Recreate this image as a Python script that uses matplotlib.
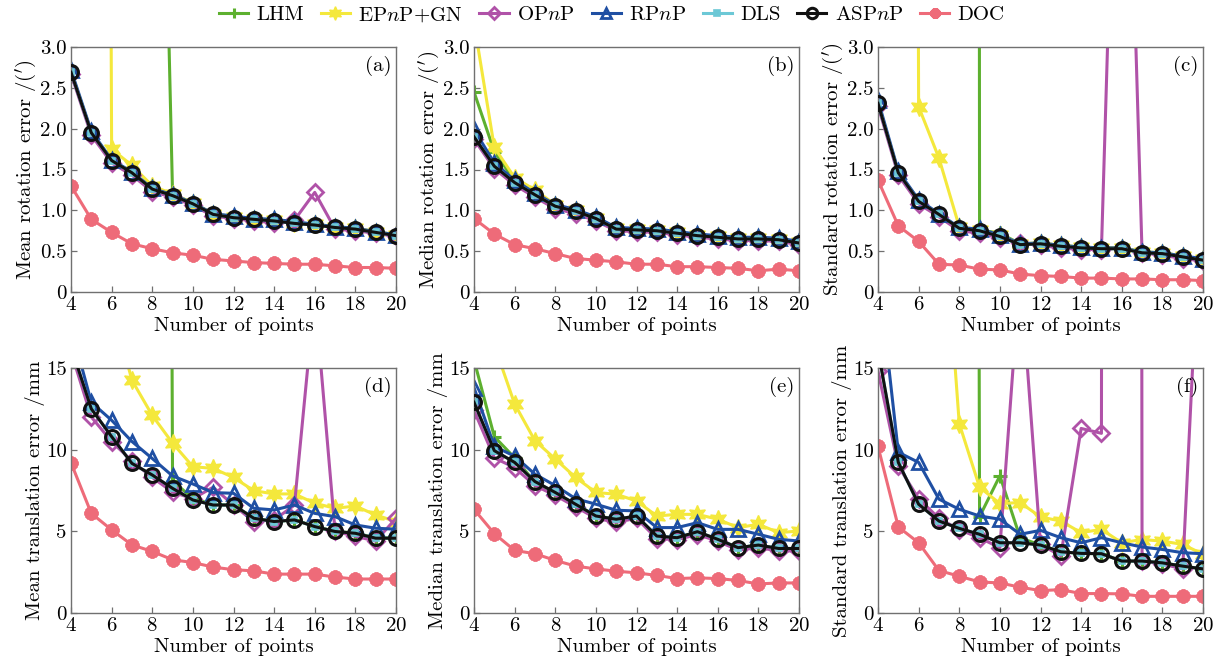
import matplotlib
matplotlib.use("Agg")
import matplotlib.pyplot as plt
from matplotlib.ticker import FuncFormatter, MultipleLocator

plt.rcParams['font.family'] = ['cmr10', 'DejaVu Serif']
plt.rcParams['mathtext.fontset'] = 'cm'
plt.rcParams['axes.formatter.use_mathtext'] = True

x = list(range(4, 21))

methods = ['LHM', r'EP$n$P+GN', r'OP$n$P', r'RP$n$P', 'DLS', r'ASP$n$P', 'DOC']

# (a) mean rotation error
a_LHM = [40, 30, 20, 15, 11.7, 1.20, 1.09, 0.95, 0.92, 0.89, 0.88, 0.85, 0.82, 0.79, 0.77, 0.73, 0.69]
a_EPNP = [80, 60, 1.75, 1.55, 1.30, 1.20, 1.09, 0.96, 0.92, 0.90, 0.88, 0.85, 0.83, 0.80, 0.78, 0.74, 0.70]
a_OPNP = [2.67, 1.92, 1.58, 1.43, 1.23, 1.16, 1.06, 0.93, 0.90, 0.87, 0.85, 0.88, 1.22, 0.77, 0.75, 0.72, 0.68]
a_RPNP = [2.72, 1.97, 1.62, 1.47, 1.27, 1.19, 1.09, 0.96, 0.93, 0.90, 0.89, 0.86, 0.83, 0.80, 0.78, 0.74, 0.70]
a_DLS = [2.69, 1.95, 1.61, 1.46, 1.26, 1.18, 1.08, 0.95, 0.91, 0.89, 0.87, 0.84, 0.82, 0.79, 0.77, 0.73, 0.69]
a_ASPNP = [2.69, 1.95, 1.61, 1.46, 1.26, 1.18, 1.08, 0.95, 0.91, 0.89, 0.87, 0.84, 0.82, 0.79, 0.77, 0.73, 0.69]
a_DOC = [1.30, 0.89, 0.73, 0.59, 0.53, 0.48, 0.45, 0.40, 0.38, 0.36, 0.35, 0.34, 0.34, 0.32, 0.30, 0.30, 0.29]

# (b) median rotation error
b_LHM = [2.45, 1.72, 1.36, 1.20, 1.06, 1.00, 0.91, 0.78, 0.77, 0.76, 0.73, 0.70, 0.68, 0.66, 0.66, 0.65, 0.61]
b_EPNP = [3.30, 1.77, 1.40, 1.25, 1.07, 1.00, 0.91, 0.78, 0.77, 0.76, 0.73, 0.70, 0.68, 0.66, 0.66, 0.65, 0.61]
b_OPNP = [1.87, 1.51, 1.31, 1.16, 1.02, 0.96, 0.87, 0.75, 0.74, 0.73, 0.70, 0.67, 0.65, 0.63, 0.63, 0.62, 0.58]
b_RPNP = [1.99, 1.58, 1.37, 1.21, 1.07, 1.01, 0.92, 0.79, 0.78, 0.77, 0.74, 0.71, 0.69, 0.67, 0.67, 0.66, 0.62]
b_DLS = [1.90, 1.54, 1.34, 1.19, 1.05, 0.99, 0.90, 0.77, 0.76, 0.75, 0.72, 0.69, 0.67, 0.65, 0.65, 0.64, 0.60]
b_ASPNP = [1.90, 1.54, 1.34, 1.19, 1.05, 0.99, 0.90, 0.77, 0.76, 0.75, 0.72, 0.69, 0.67, 0.65, 0.65, 0.64, 0.60]
b_DOC = [0.90, 0.71, 0.58, 0.53, 0.47, 0.41, 0.39, 0.37, 0.34, 0.34, 0.31, 0.31, 0.30, 0.29, 0.26, 0.28, 0.26]

# (c) standard rotation error
c_LHM = [300, 300, 300, 300, 300, 0.76, 0.72, 0.59, 0.60, 0.57, 0.55, 0.54, 0.54, 0.49, 0.48, 0.44, 0.40]
c_EPNP = [100, 80, 2.27, 1.64, 0.80, 0.76, 0.70, 0.59, 0.60, 0.57, 0.55, 0.54, 0.54, 0.49, 0.48, 0.44, 0.40]
c_OPNP = [2.28, 1.43, 1.08, 0.92, 0.75, 0.72, 0.66, 0.60, 0.57, 0.54, 0.52, 0.52, 8.8, 0.48, 0.45, 0.41, 0.38]
c_RPNP = [2.35, 1.48, 1.13, 0.96, 0.79, 0.77, 0.70, 0.59, 0.60, 0.57, 0.55, 0.54, 0.54, 0.49, 0.48, 0.44, 0.41]
c_DLS = [2.31, 1.46, 1.11, 0.95, 0.78, 0.75, 0.68, 0.58, 0.59, 0.56, 0.54, 0.53, 0.53, 0.48, 0.47, 0.43, 0.39]
c_ASPNP = [2.31, 1.46, 1.11, 0.95, 0.78, 0.75, 0.68, 0.58, 0.59, 0.56, 0.54, 0.53, 0.53, 0.48, 0.47, 0.43, 0.39]
c_DOC = [1.37, 0.81, 0.62, 0.34, 0.33, 0.28, 0.27, 0.22, 0.20, 0.19, 0.17, 0.17, 0.16, 0.16, 0.15, 0.15, 0.14]

# (d) mean translation error
d_LHM = [300, 300, 300, 300, 300, 8.1, 7.0, 6.65, 6.6, 5.8, 5.6, 5.7, 5.3, 5.0, 4.9, 4.6, 4.6]
d_EPNP = [60, 30, 18.9, 14.25, 12.1, 10.4, 8.96, 8.85, 8.3, 7.49, 7.29, 7.29, 6.72, 6.41, 6.55, 6.0, 5.6]
d_OPNP = [16.0, 12.0, 10.5, 9.3, 8.3, 7.4, 7.0, 7.7, 6.6, 5.6, 5.7, 6.6, 19.5, 5.0, 4.7, 4.4, 5.8]
d_RPNP = [17.5, 12.9, 11.8, 10.5, 9.46, 8.39, 7.90, 7.37, 7.33, 6.41, 6.31, 6.61, 6.10, 5.90, 5.39, 5.19, 5.13]
d_DLS = [16.3, 12.5, 10.8, 9.16, 8.45, 7.63, 6.92, 6.61, 6.61, 5.80, 5.60, 5.70, 5.29, 4.99, 4.88, 4.58, 4.58]
d_ASPNP = [16.3, 12.5, 10.8, 9.16, 8.45, 7.63, 6.92, 6.61, 6.61, 5.80, 5.60, 5.70, 5.29, 4.99, 4.88, 4.58, 4.58]
d_DOC = [9.2, 6.1, 5.09, 4.17, 3.77, 3.26, 3.09, 2.81, 2.65, 2.58, 2.38, 2.38, 2.38, 2.20, 2.08, 2.08, 2.08]

# (e) median translation error
e_LHM = [15.5, 10.8, 9.5, 8.0, 7.35, 6.65, 5.95, 5.75, 5.9, 4.7, 4.6, 4.95, 4.5, 4.0, 4.15, 3.95, 3.95]
e_EPNP = [30, 16.4, 12.8, 10.55, 9.43, 8.3, 7.38, 7.27, 6.86, 5.94, 6.04, 6.04, 5.74, 5.23, 5.43, 4.92, 5.02]
e_OPNP = [12.4, 9.5, 8.9, 7.8, 7.2, 6.5, 5.8, 5.55, 5.8, 4.55, 4.5, 4.8, 4.4, 3.85, 4.0, 3.8, 3.8]
e_RPNP = [13.8, 10.2, 9.6, 8.5, 7.8, 7.0, 6.66, 6.29, 6.25, 5.23, 5.23, 5.53, 5.12, 5.12, 4.82, 4.51, 4.41]
e_DLS = [12.9, 9.94, 9.22, 8.05, 7.38, 6.66, 5.94, 5.74, 5.94, 4.71, 4.61, 4.98, 4.51, 4.00, 4.16, 3.95, 3.95]
e_ASPNP = [12.9, 9.94, 9.22, 8.05, 7.38, 6.66, 5.94, 5.74, 5.94, 4.71, 4.61, 4.98, 4.51, 4.00, 4.16, 3.95, 3.95]
e_DOC = [6.35, 4.86, 3.83, 3.63, 3.22, 2.87, 2.70, 2.56, 2.46, 2.30, 2.11, 2.15, 2.11, 1.99, 1.78, 1.84, 1.84]

# (f) standard translation error
f_LHM = [500, 500, 500, 500, 500, 5.9, 8.4, 4.6, 4.16, 3.75, 3.65, 3.63, 3.18, 3.18, 3.07, 2.87, 2.70]
f_EPNP = [80, 60, 40, 28.6, 11.6, 7.7, 6.7, 6.76, 5.88, 5.63, 4.92, 5.12, 4.3, 4.5, 4.4, 4.2, 3.6]
f_OPNP = [14.8, 9.0, 7.0, 5.8, 5.1, 4.6, 4.0, 21.0, 4.2, 3.5, 11.3, 11.0, 1000, 3.2, 3.0, 2.7, 28.0]
f_RPNP = [21.0, 9.84, 9.22, 6.97, 6.35, 5.94, 5.74, 4.82, 5.06, 4.61, 4.30, 4.61, 4.30, 4.04, 3.89, 3.69, 3.63]
f_DLS = [16.1, 9.22, 6.66, 5.63, 5.18, 4.82, 4.30, 4.30, 4.16, 3.75, 3.65, 3.63, 3.18, 3.18, 3.07, 2.87, 2.70]
f_ASPNP = [16.1, 9.22, 6.66, 5.63, 5.18, 4.82, 4.30, 4.30, 4.16, 3.75, 3.65, 3.63, 3.18, 3.18, 3.07, 2.87, 2.70]
f_DOC = [10.2, 5.27, 4.3, 2.6, 2.25, 1.9, 1.84, 1.58, 1.37, 1.43, 1.19, 1.19, 1.17, 1.02, 1.02, 1.02, 1.02]

panel_data = [
    [a_LHM, a_EPNP, a_OPNP, a_RPNP, a_DLS, a_ASPNP, a_DOC],
    [b_LHM, b_EPNP, b_OPNP, b_RPNP, b_DLS, b_ASPNP, b_DOC],
    [c_LHM, c_EPNP, c_OPNP, c_RPNP, c_DLS, c_ASPNP, c_DOC],
    [d_LHM, d_EPNP, d_OPNP, d_RPNP, d_DLS, d_ASPNP, d_DOC],
    [e_LHM, e_EPNP, e_OPNP, e_RPNP, e_DLS, e_ASPNP, e_DOC],
    [f_LHM, f_EPNP, f_OPNP, f_RPNP, f_DLS, f_ASPNP, f_DOC],
]
ylabels = [r"Mean rotation error /($'$)", r"Median rotation error /($'$)", r"Standard rotation error /($'$)",
           "Mean translation error /mm", "Median translation error /mm", "Standard translation error /mm"]
panel_tags = ['(a)', '(b)', '(c)', '(d)', '(e)', '(f)']

colors = ['#5DB02F', '#F4E83C', '#B052A8', '#1F4FA3', '#6CC8D6', '#111111', '#EE6B79']
hexagram = (6, 1, 0)
asterisk = (8, 2, 0)
styles = [
    dict(marker='+', ms=10, mew=2.2, mfc=colors[0]),
    dict(marker=hexagram, ms=13, mew=1.0, mfc=colors[1]),
    dict(marker='D', ms=8, mew=2.0, mfc='none'),
    dict(marker='^', ms=9.5, mew=2.0, mfc='none'),
    dict(marker='s', ms=5, mew=1.2, mfc=colors[4]),
    dict(marker='o', ms=10, mew=2.2, mfc='none'),
    dict(marker=asterisk, ms=10, mew=3.0, mfc=colors[6]),
]
zorders = [2.0, 2.1, 2.2, 2.3, 2.4, 2.6, 2.5]

fig = plt.figure(figsize=(12.2, 6.65), dpi=100)

lefts = [71, 474, 878]
tops = [47, 368]
W, H = 325, 245
spine_col = '#707070'
FS = 15

handles = None
for i in range(6):
    r, c = divmod(i, 3)
    ax = fig.add_axes([lefts[c] / 1220, 1 - (tops[r] + H) / 665, W / 1220, H / 665])
    hs = []
    for k in range(7):
        h, = ax.plot(x, panel_data[i][k], color=colors[k], lw=2.2, mec=colors[k],
                     zorder=zorders[k], label=methods[k], **styles[k])
        hs.append(h)
    if handles is None:
        handles = hs
    ax.set_xlim(4, 20)
    ax.xaxis.set_major_locator(MultipleLocator(2))
    if r == 0:
        ax.set_ylim(0, 3.0)
        ax.yaxis.set_major_locator(MultipleLocator(0.5))
        ax.yaxis.set_major_formatter(FuncFormatter(lambda v, p: '0' if abs(v) < 1e-9 else f'{v:.1f}'))
    else:
        ax.set_ylim(0, 15)
        ax.yaxis.set_major_locator(MultipleLocator(5))
        ax.yaxis.set_major_formatter(FuncFormatter(lambda v, p: f'{v:.0f}'))
    for s in ax.spines.values():
        s.set_color(spine_col)
        s.set_linewidth(1.0)
    ax.tick_params(direction='in', length=4, width=0.9, color=spine_col, labelsize=FS, pad=3)
    ax.set_xlabel('Number of points', fontsize=FS, labelpad=2)
    ax.set_ylabel(ylabels[i], fontsize=FS, labelpad=1)
    ax.text(0.985, 0.965, panel_tags[i], transform=ax.transAxes, ha='right', va='top', fontsize=FS)

fig.legend(handles, methods, loc='center', bbox_to_anchor=(612 / 1220, 1 - 15 / 665), ncol=7,
           frameon=False, fontsize=FS, handlelength=1.4, handletextpad=0.4, columnspacing=0.8,
           borderaxespad=0, markerscale=0.75)

fig.savefig('out.png', dpi=100)
